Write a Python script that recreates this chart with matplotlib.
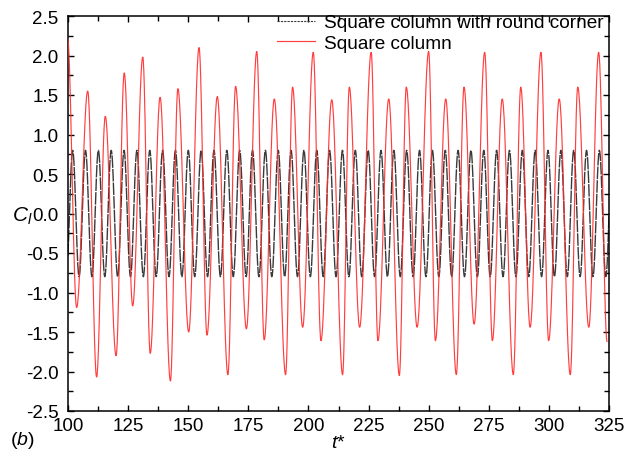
import numpy as np
import matplotlib
matplotlib.use("Agg")
import matplotlib.pyplot as plt
from matplotlib.ticker import MultipleLocator

plt.rcParams['font.family'] = ['Liberation Sans', 'DejaVu Sans']
plt.rcParams['mathtext.fontset'] = 'custom'
plt.rcParams['mathtext.rm'] = 'Liberation Sans'
plt.rcParams['mathtext.it'] = 'Liberation Sans:italic'

# ---- data: extrema (time, C_l) ----
round_times = [99.27, 101.94, 104.61, 107.28, 109.95, 112.63, 115.30, 117.97, 120.64, 123.31,
               125.98, 128.66, 131.33, 134.00, 136.67, 139.34, 142.01, 144.68, 147.36, 150.03,
               152.70, 155.37, 158.04, 160.71, 163.39, 166.06, 168.73, 171.40, 174.07, 176.74,
               179.41, 182.09, 184.76, 187.43, 190.10, 192.77, 195.44, 198.12, 200.79, 203.46,
               206.13, 208.80, 211.47, 214.14, 216.82, 219.49, 222.16, 224.83, 227.50, 230.17,
               232.85, 235.52, 238.19, 240.86, 243.53, 246.20, 248.87, 251.55, 254.22, 256.89,
               259.56, 262.23, 264.90, 267.58, 270.25, 272.92, 275.59, 278.26, 280.93, 283.60,
               286.28, 288.95, 291.62, 294.29, 296.96, 299.63, 302.31, 304.98, 307.65, 310.32,
               312.99, 315.66, 318.33, 321.00, 323.68, 326.35]
round_values = [-0.8, 0.8, -0.8, 0.8, -0.8, 0.8, -0.8, 0.8, -0.8, 0.8,
                -0.8, 0.8, -0.8, 0.8, -0.8, 0.8, -0.8, 0.8, -0.8, 0.8,
                -0.8, 0.8, -0.8, 0.8, -0.8, 0.8, -0.8, 0.8, -0.8, 0.8,
                -0.8, 0.8, -0.8, 0.8, -0.8, 0.8, -0.8, 0.8, -0.8, 0.8,
                -0.8, 0.8, -0.8, 0.8, -0.8, 0.8, -0.8, 0.8, -0.8, 0.8,
                -0.8, 0.8, -0.8, 0.8, -0.8, 0.8, -0.8, 0.8, -0.8, 0.8,
                -0.8, 0.8, -0.8, 0.8, -0.8, 0.8, -0.8, 0.8, -0.8, 0.8,
                -0.8, 0.8, -0.8, 0.8, -0.8, 0.8, -0.8, 0.8, -0.8, 0.8,
                -0.8, 0.8, -0.8, 0.8, -0.8, 0.8]

square_times = [99.8, 103.6, 108.2, 111.9, 115.5, 120.0, 123.4, 126.9, 131.1, 134.2,
                138.3, 142.6, 145.7, 150.2, 154.5, 157.8, 162.1, 166.5, 169.7, 174.2,
                178.5, 181.6, 185.8, 190.5, 193.4, 197.6, 202.0, 205.2, 209.7, 214.2,
                217.0, 221.3, 226.1, 228.9, 233.4, 237.8, 240.7, 245.2, 250.0, 252.8,
                257.1, 261.5, 264.7, 268.9, 273.3, 276.5, 280.6, 285.2, 288.3, 292.2,
                296.7, 299.9, 304.3, 308.9, 312.0, 316.6, 320.7, 324.2]
square_values = [2.22, -1.19, 1.55, -2.07, 1.23, -1.80, 1.78, -1.17, 1.98, -1.77,
                 1.47, -2.12, 1.58, -1.50, 2.10, -1.54, 1.48, -2.04, 1.61, -1.46,
                 2.05, -1.60, 1.45, -2.04, 1.60, -1.44, 2.04, -1.61, 1.44, -2.04,
                 1.60, -1.44, 2.04, -1.61, 1.45, -2.05, 1.60, -1.44, 2.05, -1.61,
                 1.45, -2.04, 1.60, -1.40, 2.04, -1.61, 1.45, -2.04, 1.60, -1.44,
                 2.04, -1.61, 1.45, -2.04, 1.60, -1.44, 2.04, -1.62]

x_ticks = [100, 125, 150, 175, 200, 225, 250, 275, 300, 325]
y_ticks = [-2.5, -2.0, -1.5, -1.0, -0.5, 0.0, 0.5, 1.0, 1.5, 2.0, 2.5]


def smooth_through_extrema(ts, vs, n=30):
    """Render a smooth oscillation passing through the given extrema (half-cosine segments)."""
    xs, ys = [], []
    for i in range(len(ts) - 1):
        s = np.linspace(0, 1, n, endpoint=False)
        w = (1 - np.cos(np.pi * s)) / 2
        xs.append(ts[i] + (ts[i + 1] - ts[i]) * s)
        ys.append(vs[i] + (vs[i + 1] - vs[i]) * w)
    xs.append([ts[-1]])
    ys.append([vs[-1]])
    return np.concatenate(xs), np.concatenate(ys)


fig = plt.figure(figsize=(6.26, 4.56), dpi=100)
ax = fig.add_axes([68 / 626, 1 - 412 / 456, 541 / 626, 395 / 456])

xr, yr = smooth_through_extrema(round_times, round_values)
xs, ys = smooth_through_extrema(square_times, square_values)

ax.plot(xr, yr, color='#3a3a3a', lw=1.0, linestyle=(0, (9, 0.8)),
        label='Square column with round corner', zorder=2)
ax.plot(xs, ys, color='#ff2a2a', lw=0.85, alpha=0.9,
        label='Square column', zorder=3)

ax.set_xlim(100, 325)
ax.set_ylim(-2.5, 2.5)
ax.set_xticks(x_ticks)
ax.set_yticks(y_ticks)
ax.set_xticklabels([str(v) for v in x_ticks])
ax.set_yticklabels([f"{v:.1f}" for v in y_ticks])
ax.xaxis.set_minor_locator(MultipleLocator(12.5))
ax.yaxis.set_minor_locator(MultipleLocator(0.25))
ax.tick_params(which='both', direction='in', top=True, right=True, width=1.0,
               labelsize=13.5, colors='black')
ax.tick_params(which='major', length=4.5)
ax.tick_params(which='minor', length=3.5)
ax.tick_params(axis='x', which='major', pad=4)
ax.tick_params(axis='y', which='major', pad=7)
for sp in ax.spines.values():
    sp.set_linewidth(1.1)

fig.text(12 / 626, 1 - 216 / 456, r'$C_l$', fontsize=15, ha='left', va='center')
fig.text(338 / 626, 1 - 444 / 456, r'$t$*', fontsize=14, ha='center', va='center')
fig.text(10 / 626, 1 - 441 / 456, r'($b$)', fontsize=14, ha='left', va='center')

leg = ax.legend(loc='upper left', bbox_to_anchor=(0.386, 1.005), frameon=False,
                fontsize=13.7, handlelength=2.0, handletextpad=0.5,
                labelspacing=0.15, borderpad=0.0, borderaxespad=0.0)
leg.get_lines()[0].set_linestyle((0, (2, 1)))
leg.get_lines()[0].set_linewidth(0.8)

fig.savefig('out.png', dpi=100)
